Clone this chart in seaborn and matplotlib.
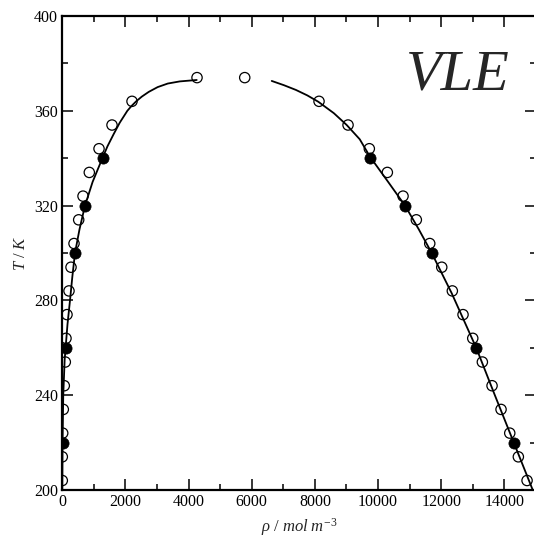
import numpy as np
import pandas as pd
import matplotlib
matplotlib.use("Agg")
import matplotlib.pyplot as plt
from matplotlib import font_manager as fm
import seaborn as sns

# simulation points (open circles)
T_open = [204, 214, 224, 234, 244, 254, 264, 274, 284, 294, 304, 314, 324, 334, 344, 354, 364, 374]
rho_vap_open = [0, 0, 13, 32, 63, 95, 117, 149, 212, 276, 371, 519, 656, 855, 1163, 1574, 2208, 4267]
rho_liq_open = [14720, 14444, 14172, 13896, 13611, 13304, 13000, 12692, 12353, 12018, 11638, 11213,
                10792, 10295, 9724, 9050, 8131, 5778]

# experimental points (filled circles)
T_fill = [220, 260, 300, 320, 340]
rho_vap_fill = [13, 110, 405, 719, 1285]
rho_liq_fill = [14300, 13110, 11710, 10860, 9760]

# fitted coexistence curve
T_vap_line = [200, 220, 240, 255, 260, 270, 280, 290, 300, 310, 320, 330, 340, 345, 350, 355,
              360, 362, 364, 366, 368, 370, 371.5, 372.4, 373]
rho_vap_line = [0, 8, 30, 75, 105, 165, 244, 318, 402, 545, 719, 960, 1270, 1430, 1620, 1820,
                2060, 2190, 2340, 2520, 2740, 3020, 3340, 3720, 4257]
T_liq_line = [200, 220, 240, 260, 283, 300, 310, 320, 330, 340.6, 348, 354, 359, 363.8, 366.5,
              368.8, 370.8, 372.6]
rho_liq_line = [14900, 14300, 13700, 13110, 12334, 11700, 11290, 10855, 10320, 9747, 9420, 9008,
                8600, 8110, 7760, 7400, 7020, 6633]

sns.set_theme(style="ticks")
plt.rcParams['font.family'] = ['Liberation Serif', 'DejaVu Serif']
plt.rcParams['mathtext.fontset'] = 'custom'
plt.rcParams['mathtext.it'] = 'Liberation Serif:italic'
plt.rcParams['mathtext.rm'] = 'Liberation Serif'

italic_file = fm.findfont(fm.FontProperties(family='Liberation Serif', style='italic'))

fig = plt.figure(figsize=(5.34, 5.39), dpi=100)
ax = fig.add_axes([62.3 / 534, 49 / 539, 473.6 / 534, 474 / 539])

vap_line = pd.DataFrame({"rho": rho_vap_line, "T": T_vap_line})
liq_line = pd.DataFrame({"rho": rho_liq_line, "T": T_liq_line})
for df in (vap_line, liq_line):
    sns.lineplot(data=df, x="rho", y="T", sort=False, estimator=None,
                 color='black', linewidth=1.3, ax=ax)

sim = pd.DataFrame({"rho": rho_vap_open + rho_liq_open, "T": T_open + T_open})
sns.scatterplot(data=sim, x="rho", y="T", marker='o', s=55, facecolor='none',
                edgecolor='black', linewidth=0.9, ax=ax, zorder=3)

exp = pd.DataFrame({"rho": rho_vap_fill + rho_liq_fill, "T": T_fill + T_fill})
sns.scatterplot(data=exp, x="rho", y="T", marker='o', s=65, color='black',
                edgecolor='black', linewidth=0.5, ax=ax, zorder=4)

ax.set_xlim(0, 15000)
ax.set_ylim(200, 400)
ax.set_xticks(np.arange(0, 15000, 2000))
ax.set_xticks(np.arange(1000, 15001, 2000), minor=True)
ax.set_yticks(np.arange(200, 401, 40))
ax.set_yticks(np.arange(220, 400, 40), minor=True)

ax.tick_params(which='both', direction='in', top=True, right=True, width=1.1,
               labelsize=11.5, pad=3, colors='black')
ax.tick_params(which='major', length=8)
ax.tick_params(which='minor', length=4)
for s in ax.spines.values():
    s.set_linewidth(1.6)
    s.set_color('black')

ax.set_xlabel(r'$\rho\ /\ mol\ m^{-3}$', fontsize=12, labelpad=4.5)
ax.set_ylabel(r'$T\ /\ K$', fontsize=12, labelpad=4)

ax.text(0.835, 0.875, 'VLE', transform=ax.transAxes,
        fontproperties=fm.FontProperties(fname=italic_file, size=42),
        ha='center', va='center')

fig.savefig('out.png', dpi=100)
